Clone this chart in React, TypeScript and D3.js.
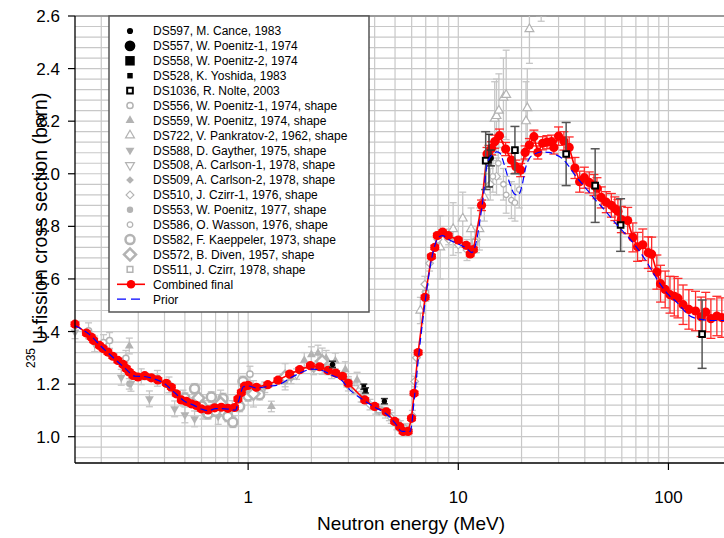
import React from "react";
import * as d3 from "d3";

type Pt = [number, number, number];

// ---------- data ----------
const xTickVals = [1, 10, 100];
const yTickVals = [1.0, 1.2, 1.4, 1.6, 1.8, 2.0, 2.2, 2.4, 2.6];
const xGridVals = [0.2, 0.3, 0.4, 0.5, 0.6, 0.7, 0.8, 0.9, 1, 2, 3, 4, 5, 6, 7, 8, 9, 10, 20, 30, 40, 50, 60, 70, 80, 90, 100, 200];

// Combined final [E (MeV), sigma (b), err]
const combinedFinal: Pt[] = [
  [0.150, 1.428, 0.008], [0.170, 1.394, 0.008], [0.179, 1.379, 0.008], [0.184, 1.366, 0.008], [0.196, 1.347, 0.008],
  [0.204, 1.335, 0.008], [0.215, 1.322, 0.008], [0.227, 1.306, 0.008], [0.240, 1.290, 0.008], [0.254, 1.275, 0.008],
  [0.263, 1.259, 0.008], [0.272, 1.246, 0.008], [0.283, 1.233, 0.008], [0.299, 1.227, 0.008], [0.322, 1.232, 0.008],
  [0.346, 1.224, 0.008], [0.372, 1.216, 0.008], [0.408, 1.203, 0.008], [0.431, 1.188, 0.008], [0.455, 1.163, 0.008],
  [0.481, 1.140, 0.008], [0.508, 1.134, 0.008], [0.536, 1.125, 0.008], [0.566, 1.119, 0.008], [0.598, 1.106, 0.008],
  [0.644, 1.102, 0.008], [0.693, 1.110, 0.008], [0.745, 1.112, 0.008], [0.801, 1.108, 0.008], [0.862, 1.111, 0.008],
  [0.894, 1.143, 0.008], [0.928, 1.168, 0.008], [0.962, 1.192, 0.008], [1.00, 1.195, 0.008], [1.094, 1.188, 0.008],
  [1.24, 1.198, 0.008], [1.386, 1.215, 0.008], [1.577, 1.238, 0.008], [1.759, 1.255, 0.008], [1.977, 1.270, 0.008],
  [2.19, 1.266, 0.008], [2.40, 1.252, 0.008], [2.61, 1.242, 0.008], [2.81, 1.230, 0.008], [2.99, 1.203, 0.008],
  [3.59, 1.140, 0.008], [4.00, 1.115, 0.008], [4.54, 1.095, 0.008], [4.98, 1.058, 0.008], [5.26, 1.038, 0.008],
  [5.46, 1.020, 0.008], [5.77, 1.020, 0.008], [5.99, 1.070, 0.008], [6.16, 1.165, 0.008], [6.44, 1.320, 0.008],
  [6.95, 1.530, 0.008], [7.45, 1.685, 0.008], [7.73, 1.720, 0.008], [7.95, 1.765, 0.008], [8.42, 1.778, 0.008],
  [8.95, 1.765, 0.008], [10.0, 1.748, 0.008], [10.9, 1.728, 0.008], [11.4, 1.695, 0.008], [11.8, 1.712, 0.008],
  [12.9, 1.880, 0.02], [13.7, 2.075, 0.025], [14.0, 2.083, 0.025], [14.4, 2.097, 0.025], [14.9, 2.122, 0.025],
  [15.7, 2.145, 0.025], [16.8, 2.094, 0.025], [17.9, 2.052, 0.025], [18.8, 2.027, 0.025], [19.8, 2.014, 0.025],
  [20.8, 2.081, 0.025], [21.8, 2.109, 0.025], [22.9, 2.141, 0.025], [23.9, 2.081, 0.025], [25.2, 2.116, 0.025],
  [26.4, 2.120, 0.025], [27.8, 2.122, 0.025], [28.5, 2.100, 0.025], [30.0, 2.143, 0.035], [31.8, 2.125, 0.035],
  [33.7, 2.100, 0.04], [35.9, 2.022, 0.04], [37.8, 1.970, 0.04], [39.8, 1.985, 0.04], [42.0, 1.967, 0.04],
  [44.2, 1.957, 0.04], [45.7, 1.945, 0.04], [47.9, 1.910, 0.04], [50.6, 1.892, 0.04], [53.5, 1.880, 0.045],
  [55.6, 1.867, 0.045], [57.5, 1.857, 0.045], [59.7, 1.826, 0.05], [64.0, 1.822, 0.05], [67.7, 1.758, 0.055],
  [71.3, 1.722, 0.055], [75.5, 1.730, 0.06], [80.2, 1.700, 0.06], [83.2, 1.694, 0.065], [88.1, 1.626, 0.065],
  [91.7, 1.582, 0.07], [96.5, 1.560, 0.07], [101.7, 1.540, 0.07], [106.6, 1.534, 0.075], [111.0, 1.527, 0.075],
  [117.4, 1.502, 0.075], [125.1, 1.484, 0.075], [134.6, 1.478, 0.075], [143, 1.456, 0.075], [150.5, 1.474, 0.075],
  [159.2, 1.449, 0.075], [170.0, 1.459, 0.075], [179.5, 1.453, 0.075],
];

// Prior [E, sigma]
const priorE = [0.150, 0.175, 0.200, 0.230, 0.260, 0.290, 0.320, 0.350, 0.400, 0.450, 0.500, 0.550, 0.600, 0.650, 0.700, 0.800, 0.870, 0.900, 0.950, 1.00, 1.10, 1.25, 1.40, 1.60, 1.80, 2.00, 2.20, 2.50, 2.80, 3.00, 3.50, 4.00, 4.50, 5.00, 5.40, 5.90, 6.20, 6.50, 7.00, 7.50, 8.00, 8.40, 9.00, 10.0, 11.0, 11.6, 12.0, 13.0, 13.8, 14.5, 15.2, 15.8, 16.5, 17.5, 18.5, 19.3, 20.0, 21.0, 22.0, 23.5, 25.0, 27.0, 29.0, 31.0, 33.0, 36.0, 40.0, 45.0, 50.0, 57.0, 65.0, 72.0, 80.0, 90.0, 100.0, 110.0, 125.0, 140.0, 160.0, 200.0];
const priorS = [1.422, 1.390, 1.343, 1.298, 1.260, 1.230, 1.229, 1.222, 1.202, 1.165, 1.134, 1.120, 1.105, 1.099, 1.107, 1.105, 1.101, 1.135, 1.190, 1.193, 1.185, 1.192, 1.198, 1.225, 1.245, 1.257, 1.254, 1.234, 1.213, 1.184, 1.142, 1.112, 1.089, 1.052, 1.020, 1.020, 1.158, 1.318, 1.530, 1.685, 1.755, 1.765, 1.750, 1.733, 1.715, 1.700, 1.722, 1.882, 2.045, 2.072, 2.083, 2.078, 2.038, 1.968, 1.923, 1.918, 1.948, 2.028, 2.063, 2.078, 2.083, 2.081, 2.073, 2.060, 2.037, 1.994, 1.950, 1.900, 1.860, 1.805, 1.755, 1.711, 1.656, 1.588, 1.540, 1.510, 1.462, 1.447, 1.442, 1.442];

// Experimental data sets [E, sigma, err]
const ds597: Pt[] = [[2.52, 1.275, 0.012], [4.45, 1.135, 0.010]];
const ds557: Pt[] = [[14.3, 2.060, 0.030]];
const ds558: Pt[] = [[14.0, 2.050, 0.100]];
const ds528: Pt[] = [[3.55, 1.190, 0.010], [3.62, 1.176, 0.010]];
const ds1036: Pt[] = [[13.5, 2.050, 0.110], [18.6, 2.090, 0.090], [32.6, 2.075, 0.120], [44.8, 1.955, 0.140], [59.2, 1.805, 0.100], [144.6, 1.390, 0.130]];
const ds556: Pt[] = [[0.174, 1.403, 0.03], [0.205, 1.358, 0.03], [0.219, 1.366, 0.03], [0.262, 1.298, 0.03], [0.31, 1.228, 0.03], [0.37, 1.222, 0.03], [0.42, 1.197, 0.03], [0.49, 1.147, 0.03], [0.58, 1.127, 0.03], [0.68, 1.112, 0.03], [0.84, 1.107, 0.03], [1.02, 1.238, 0.03]];
const ds559: Pt[] = [[0.272, 1.345, 0.03], [0.9, 1.125, 0.02], [1.29, 1.115, 0.02], [1.85, 1.290, 0.03], [2.0, 1.312, 0.03], [2.15, 1.318, 0.03], [2.35, 1.298, 0.03], [2.6, 1.288, 0.03], [2.9, 1.255, 0.03], [3.3, 1.215, 0.03]];
const ds722: Pt[] = [[6.6, 1.48, 0.05], [8.2, 1.72, 0.12], [9.45, 1.79, 0.10], [10.5, 1.83, 0.10], [11.5, 1.79, 0.08], [12.6, 1.79, 0.08], [13.3, 1.91, 0.09], [14.9, 2.21, 0.14], [15.2, 2.22, 0.14], [15.6, 2.24, 0.14], [16.4, 2.29, 0.15], [16.9, 2.30, 0.17], [21.0, 2.20, 0.15], [21.3, 2.25, 0.15], [21.8, 2.55, 0.13], [24.8, 2.61, 0.03]];
const ds588: Pt[] = [[0.150, 1.398, 0.025], [0.186, 1.353, 0.03], [0.249, 1.226, 0.03], [0.277, 1.203, 0.03], [0.339, 1.144, 0.03], [0.447, 1.106, 0.03], [0.50, 1.083, 0.03], [0.556, 1.068, 0.03], [0.61, 1.097, 0.03], [0.72, 1.077, 0.03]];
const ds508: Pt[] = [[1.15, 1.172, 0.02], [1.7, 1.238, 0.02], [2.4, 1.256, 0.02], [3.2, 1.184, 0.02], [4.2, 1.102, 0.02], [5.1, 1.046, 0.02]];
const ds509: Pt[] = [[1.2, 1.188, 0.02], [1.6, 1.222, 0.02], [2.05, 1.256, 0.02], [2.5, 1.241, 0.02], [2.95, 1.209, 0.02], [3.45, 1.152, 0.02], [4.05, 1.106, 0.02], [4.7, 1.081, 0.02], [5.3, 1.041, 0.02]];
const ds510: Pt[] = [[3.0, 1.194, 0.02], [3.8, 1.122, 0.02], [4.8, 1.071, 0.02], [5.6, 1.030, 0.02], [6.05, 1.08, 0.02], [6.2, 1.21, 0.02], [6.32, 1.30, 0.02], [6.93, 1.58, 0.03], [7.3, 1.66, 0.03], [8.0, 1.75, 0.03], [9.0, 1.75, 0.03], [10.0, 1.73, 0.03], [11.0, 1.71, 0.04], [12.2, 1.75, 0.05], [14.2, 1.96, 0.06], [15.2, 1.99, 0.07]];
const ds553: Pt[] = [[0.272, 1.201, 0.02], [0.62, 1.117, 0.02], [1.5, 1.210, 0.02], [2.5, 1.266, 0.02], [3.5, 1.152, 0.02], [4.5, 1.091, 0.02]];
const ds586: Pt[] = [[14.6, 1.99, 0.06], [15.5, 2.04, 0.06], [16.4, 1.96, 0.06], [16.9, 1.92, 0.07], [17.9, 1.90, 0.07], [18.6, 1.89, 0.07], [19.5, 1.94, 0.07]];
const ds582: Pt[] = [[0.50, 1.147, 0.02], [0.556, 1.182, 0.02], [0.60, 1.117, 0.02], [0.644, 1.087, 0.02], [0.668, 1.151, 0.02], [0.70, 1.097, 0.02], [0.759, 1.145, 0.02], [0.80, 1.077, 0.02], [0.846, 1.055, 0.02], [0.911, 1.115, 0.02], [0.945, 1.210, 0.02], [1.0, 1.155, 0.02], [1.134, 1.160, 0.02]];
const ds572: Pt[] = [[0.58, 1.147, 0.05], [0.74, 1.127, 0.05], [1.06, 1.163, 0.05], [1.5, 1.228, 0.05], [2.25, 1.287, 0.05]];
const ds511: Pt[] = [[3.0, 1.208, 0.02], [4.2, 1.102, 0.02], [5.6, 1.025, 0.02], [7.0, 1.545, 0.03], [9.0, 1.760, 0.03], [12.0, 1.740, 0.04]];

const legendNames = [
  "DS597, M. Cance, 1983",
  "DS557, W. Poenitz-1, 1974",
  "DS558, W. Poenitz-2, 1974",
  "DS528, K. Yoshida, 1983",
  "DS1036, R. Nolte, 2003",
  "DS556, W. Poenitz-1, 1974, shape",
  "DS559, W. Poenitz, 1974, shape",
  "DS722, V. Pankratov-2, 1962, shape",
  "DS588, D. Gayther, 1975, shape",
  "DS508, A. Carlson-1, 1978, shape",
  "DS509, A. Carlson-2, 1978, shape",
  "DS510, J. Czirr-1, 1976, shape",
  "DS553, W. Poenitz, 1977, shape",
  "DS586, O. Wasson, 1976, shape",
  "DS582, F. Kaeppeler, 1973, shape",
  "DS572, B. Diven, 1957, shape",
  "DS511, J. Czirr, 1978, shape",
];
const finalName = "Combined final";
const priorName = "Prior";

// ---------- styles ----------
const GREY = "#b3b3b3";
const GREYBAR = "#c6c6c6";
const BLK = "#000";

type Sty = { type: d3.SymbolType; size: number; fill: string; stroke: string; sw: number; rot: number; bar: string; cap: number };
const mk = (type: d3.SymbolType, size: number, fill: string, stroke: string, sw: number, rot: number, bar: string, cap = 7): Sty => ({ type, size, fill, stroke, sw, rot, bar, cap });

const sets: { pts: Pt[]; s: Sty; legendS?: Sty }[] = [
  { pts: ds597, s: mk(d3.symbolCircle, 22, BLK, "none", 0, 0, "#333", 7), legendS: mk(d3.symbolCircle, 30, BLK, "none", 0, 0, "#333") },
  { pts: ds557, s: mk(d3.symbolCircle, 28, BLK, "none", 0, 0, "#333", 8), legendS: mk(d3.symbolCircle, 90, BLK, "none", 0, 0, "#333") },
  { pts: ds558, s: mk(d3.symbolSquare, 30, BLK, "none", 0, 0, "#333", 8), legendS: mk(d3.symbolSquare, 90, BLK, "none", 0, 0, "#333") },
  { pts: ds528, s: mk(d3.symbolSquare, 22, BLK, "none", 0, 0, "#333", 7), legendS: mk(d3.symbolSquare, 30, BLK, "none", 0, 0, "#333") },
  { pts: ds1036, s: mk(d3.symbolSquare, 32, "#fff", BLK, 2, 0, "#555", 9) },
  { pts: ds556, s: mk(d3.symbolCircle, 30, "#fff", GREY, 1.5, 0, GREYBAR) },
  { pts: ds559, s: mk(d3.symbolTriangle, 34, GREY, "none", 0, 0, GREYBAR) },
  { pts: ds722, s: mk(d3.symbolTriangle, 34, "#fff", GREY, 1.2, 0, GREYBAR) },
  { pts: ds588, s: mk(d3.symbolTriangle, 34, GREY, "none", 0, 180, GREYBAR) },
  { pts: ds508, s: mk(d3.symbolTriangle, 34, "#fff", GREY, 1.2, 180, GREYBAR) },
  { pts: ds509, s: mk(d3.symbolSquare, 30, GREY, "none", 0, 45, GREYBAR) },
  { pts: ds510, s: mk(d3.symbolSquare, 30, "#fff", GREY, 1.2, 45, GREYBAR) },
  { pts: ds553, s: mk(d3.symbolCircle, 32, GREY, "none", 0, 0, GREYBAR) },
  { pts: ds586, s: mk(d3.symbolCircle, 24, "#fff", GREY, 1.3, 0, GREYBAR) },
  { pts: ds582, s: mk(d3.symbolCircle, 64, "#fff", GREY, 2.5, 0, GREYBAR) },
  { pts: ds572, s: mk(d3.symbolSquare, 72, "#fff", GREY, 2.5, 45, GREYBAR) },
  { pts: ds511, s: mk(d3.symbolSquare, 32, "#fff", GREY, 1.5, 0, GREYBAR) },
];

const W = 724, H = 538;
const X0 = 75, X1 = 731.7, Y0 = 463, Y1 = 16;
const FONT = "Arial, 'Liberation Sans', sans-serif";

function Marker({ s, cx, cy }: { s: Sty; cx: number; cy: number }) {
  const d = d3.symbol().type(s.type).size(s.size)() as string;
  return (
    <path d={d} transform={`translate(${cx},${cy}) rotate(${s.rot})`} fill={s.fill} stroke={s.stroke} strokeWidth={s.sw} />
  );
}

function ErrBar({ cx, yTop, yBot, color, cap, sw = 1.3 }: { cx: number; yTop: number; yBot: number; color: string; cap: number; sw?: number }) {
  return (
    <g stroke={color} strokeWidth={sw}>
      <line x1={cx} x2={cx} y1={yTop} y2={yBot} />
      <line x1={cx - cap / 2} x2={cx + cap / 2} y1={yTop} y2={yTop} />
      <line x1={cx - cap / 2} x2={cx + cap / 2} y1={yBot} y2={yBot} />
    </g>
  );
}

export default function App() {
  const x = d3.scaleLog().domain([0.15, 200]).range([X0, X1]);
  const y = d3.scaleLinear().domain([0.9, 2.6]).range([Y0, Y1]);
  const yGridVals = d3.range(1, 43).map((k) => 2.6 - 0.04 * k);

  const redLine = d3.line<Pt>().x((d) => x(d[0])).y((d) => y(d[1]))(combinedFinal) as string;
  const priorPts = priorE.map((e, i) => [e, priorS[i]] as [number, number]);
  const blueLine = d3.line<[number, number]>().x((d) => x(d[0])).y((d) => y(d[1])).curve(d3.curveMonotoneX)(priorPts) as string;

  const grey = sets.slice(5);
  const black = sets.slice(0, 5);

  const legX = 109, legY = 16, legW = 260, legH = 296;
  const rowY = (i: number) => 31 + i * 14.9;

  return (
    <svg width={W} height={H} style={{ position: "absolute", left: 0, top: 0, background: "#fff" }} fontFamily={FONT}>
      <defs>
        <clipPath id="plotclip">
          <rect x={60} y={Y1} width={700} height={Y0 - Y1 + 10} />
        </clipPath>
      </defs>
      <rect x={0} y={0} width={W} height={H} fill="#fff" />
      {/* grid */}
      <g stroke="#c8c8c8" strokeWidth={1.2}>
        {xGridVals.map((v) => (
          <line key={"gx" + v} x1={x(v)} x2={x(v)} y1={Y1} y2={Y0} />
        ))}
        {yGridVals.map((v, i) => (
          <line key={"gy" + i} x1={X0} x2={W} y1={y(v)} y2={y(v)} />
        ))}
      </g>
      <line x1={X0} x2={W} y1={Y1} y2={Y1} stroke="#9a9a9a" strokeWidth={2} />

      <g clipPath="url(#plotclip)">
        {/* grey data */}
        {grey.map((ds, k) => (
          <g key={"ge" + k}>
            {ds.pts.map((p, i) => (
              <ErrBar key={i} cx={x(p[0])} yTop={y(p[1] + p[2])} yBot={y(p[1] - p[2])} color={ds.s.bar} cap={ds.s.cap} />
            ))}
          </g>
        ))}
        {grey.map((ds, k) => (
          <g key={"gm" + k}>
            {ds.pts.map((p, i) => (
              <Marker key={i} s={ds.s} cx={x(p[0])} cy={y(p[1])} />
            ))}
          </g>
        ))}
        {/* combined final */}
        {combinedFinal.map((p, i) => (
          <ErrBar key={"re" + i} cx={x(p[0])} yTop={y(p[1] + p[2])} yBot={y(p[1] - p[2])} color="#ff2a2a" cap={9} sw={1.3} />
        ))}
        <path d={redLine} fill="none" stroke="#ff0000" strokeWidth={1.6} />
        {combinedFinal.map((p, i) => (
          <circle key={"rc" + i} cx={x(p[0])} cy={y(p[1])} r={4.6} fill="#ff0000" />
        ))}
        {/* black data */}
        {black.map((ds, k) => (
          <g key={"b" + k}>
            {ds.pts.map((p, i) => (
              <g key={i}>
                <ErrBar cx={x(p[0])} yTop={y(p[1] + p[2])} yBot={y(p[1] - p[2])} color={ds.s.bar} cap={ds.s.cap} sw={1.5} />
                <Marker s={ds.s} cx={x(p[0])} cy={y(p[1])} />
              </g>
            ))}
          </g>
        ))}
        {/* prior */}
        <path d={blueLine} fill="none" stroke="#0000ff" strokeWidth={1.2} strokeDasharray="7,4" />
      </g>

      {/* axes */}
      <line x1={X0} x2={X0} y1={Y1} y2={Y0} stroke="#000" strokeWidth={1.3} />
      <line x1={X0} x2={W} y1={Y0} y2={Y0} stroke="#000" strokeWidth={1.3} />
      {yTickVals.map((v) => (
        <g key={"yt" + v}>
          <line x1={X0 - 7} x2={X0} y1={y(v)} y2={y(v)} stroke="#000" strokeWidth={1.2} />
          <text x={60} y={y(v) + 6} textAnchor="end" fontSize={17} fill="#000">
            {v.toFixed(1)}
          </text>
        </g>
      ))}
      {xTickVals.map((v) => (
        <g key={"xt" + v}>
          <line x1={x(v)} x2={x(v)} y1={Y0} y2={Y0 + 7} stroke="#000" strokeWidth={1.2} />
          <text x={x(v)} y={503} textAnchor="middle" fontSize={17} fill="#000">
            {v}
          </text>
        </g>
      ))}
      <text x={411} y={530} textAnchor="middle" fontSize={19} fill="#000">
        Neutron energy (MeV)
      </text>
      <text transform={`translate(47,368) rotate(-90)`} fontSize={19.5} fill="#000">
        <tspan fontSize={12} dy={-12}>235</tspan>
        <tspan dy={12} dx={4}>U fission cross section (barn)</tspan>
      </text>

      {/* legend */}
      <rect x={legX} y={legY} width={legW} height={legH} fill="#fff" stroke="#555" strokeWidth={1.5} />
      {sets.map((ds, i) => (
        <g key={"lg" + i}>
          <Marker s={ds.legendS ?? ds.s} cx={130} cy={rowY(i)} />
          <text x={153} y={rowY(i) + 4.3} fontSize={12} fill="#000">
            {legendNames[i]}
          </text>
        </g>
      ))}
      <line x1={117} x2={145} y1={rowY(17)} y2={rowY(17)} stroke="#ff0000" strokeWidth={1.6} />
      <circle cx={131} cy={rowY(17)} r={4.3} fill="#ff0000" />
      <text x={153} y={rowY(17) + 4.3} fontSize={12} fill="#000">{finalName}</text>
      <line x1={117} x2={145} y1={rowY(18)} y2={rowY(18)} stroke="#0000ff" strokeWidth={1.2} strokeDasharray="9,5" />
      <text x={153} y={rowY(18) + 4.3} fontSize={12} fill="#000">{priorName}</text>
    </svg>
  );
}
